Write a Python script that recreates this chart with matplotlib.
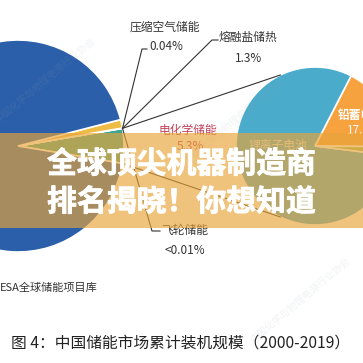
import numpy as np
import matplotlib.pyplot as plt
import matplotlib.patheffects as pe
from matplotlib.patches import Rectangle

plt.rcParams['font.family'] = ['Noto Sans CJK SC', 'DejaVu Sans']

#=============== data =================
main_labels = ['电化学储能', '压缩空气储能', '飞轮储能', '熔融盐储热', '抽水蓄能']
main_values = [5.3, 0.04, 0.01, 1.3, 93.35]
main_text = ['5.3%', '0.04%', '<0.01%', '1.3%', '']
sub_labels = ['铅蓄电池', '锂离子电池', '其他']
sub_values = [17.6, 80.6, 1.8]
sub_text = ['17.6%', '', '']
source = 'ESA全球储能项目库'
caption = '图 4：中国储能市场累计装机规模（2000-2019）'
banner = ['全球顶尖机器制造商', '排名揭晓！你想知道']

main_colors = ['#3fa592', '#8064a2', '#c0504d', '#efbd45', '#2b5fa9']
sub_colors = ['#f6a33f', '#4aabca', '#9bbb59']

W = 363
def py(y):
    # pixel row -> data y
    return W - y

fig = plt.figure(figsize=(3.63, 3.63), dpi=100)
ax = fig.add_axes([0, 0, 1, 1])

c1 = np.array([18.0, py(146)])
r1 = 106
c2 = np.array([315.0, py(146)])
r2 = 79

w1, _ = ax.pie(main_values, colors=main_colors, startangle=-9.5, center=c1,
               radius=r1, wedgeprops=dict(edgecolor='white', linewidth=1.2))
w2, _ = ax.pie(sub_values, colors=sub_colors, startangle=-0.56, center=c2,
               radius=r2, wedgeprops=dict(edgecolor='white', linewidth=1.2))

def edge(c, r, ang):
    a = np.deg2rad(ang)
    return c + r * np.array([np.cos(a), np.sin(a)])

# connectors main -> secondary pie
top = edge(c1, r1, w1[0].theta2)
bot = edge(c1, r1, w1[0].theta1)
for p, a in [(top, 116), (bot, -116)]:
    q = edge(c2, r2, a)
    ax.plot([p[0], q[0]], [p[1], q[1]], color='#333333', lw=0.8, zorder=3)

# leader lines
lab_kw = dict(fontsize=8.5, color='#333333', va='center', zorder=3)
leaders = [((142, 49), (147, 49)), ((212, 40), (218, 40)), ((152, 231), (160, 231))]
for (x1, y1), (x2, y2) in leaders:
    ax.plot([top[0], x1, x2], [top[1], py(y1), py(y2)], color='#333333', lw=0.8, zorder=3)

ax.text(165, py(27), main_labels[1], ha='center', **lab_kw)
ax.text(149, py(47), main_text[1], ha='left', **lab_kw)
ax.text(248, py(37), main_labels[3], ha='center', **lab_kw)
ax.text(249, py(58), main_text[3], ha='center', **lab_kw)
ax.text(185, py(230), main_labels[2], ha='center', **lab_kw)
ax.text(185, py(250), main_text[2], ha='center', **lab_kw)
ax.text(188, py(130), main_labels[0], ha='center', fontsize=8.5, color='#c0405a',
        va='center', zorder=3)
ax.text(190, py(147), main_text[0], ha='center', fontsize=8.5, color='#c0405a',
        va='center', zorder=3)
ax.text(278, py(145), sub_labels[1], ha='center', fontsize=8.5, color='#dcebef',
        va='center', zorder=3)
ax.text(338, py(115), sub_labels[0], ha='left', fontsize=8.5, color='white',
        va='center', fontweight='bold', zorder=3)
ax.text(347, py(131), sub_text[0], ha='left', fontsize=8.5, color='white',
        va='center', zorder=3)

# faint watermark
for x, y in [(45, 80), (235, 120), (300, 300)]:
    ax.text(x, py(y), '中国化学与物理电源行业协会', rotation=40, fontsize=7,
            color='#9aa7b5', alpha=0.15, ha='center', va='center', zorder=4)

ax.text(0, py(288), source, ha='left', va='center', fontsize=8, color='#333333')
ax.text(181, py(343), caption, ha='center', va='center', fontsize=11.3, color='#222222')

# banner overlay
ax.add_patch(Rectangle((0, py(228)), W, 95, facecolor=(0.913, 0.643, 0.224),
                       alpha=0.66, edgecolor='none', zorder=5))
for i, s in enumerate(banner):
    ax.text(181.5, py(164 + 38 * i), s, ha='center', va='center', fontsize=21.5,
            fontweight='bold', color='white', zorder=6,
            path_effects=[pe.withStroke(linewidth=0.6, foreground='white')])

ax.set_xlim(0, W)
ax.set_ylim(0, W)
ax.set_aspect('equal')
ax.axis('off')

fig.savefig('out.png', dpi=100)
